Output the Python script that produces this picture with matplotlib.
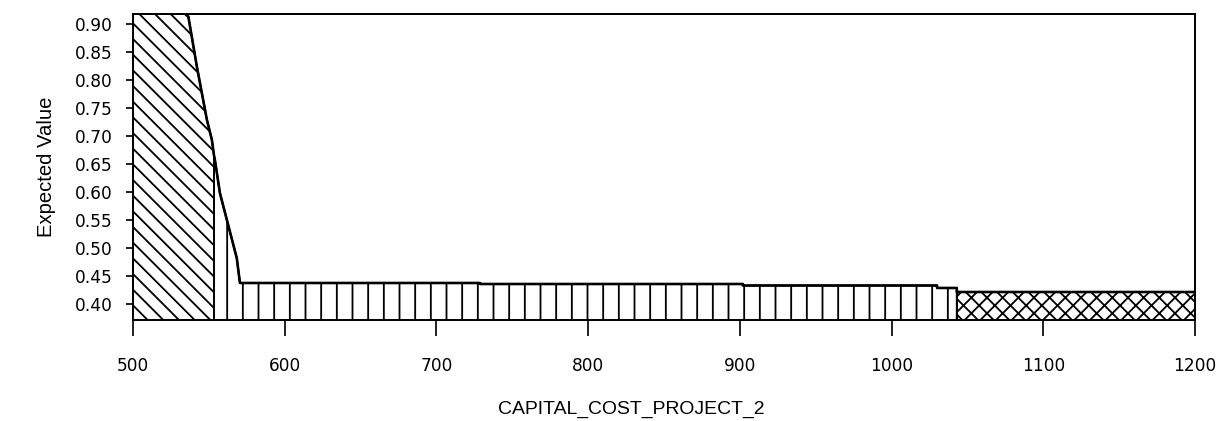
import matplotlib
matplotlib.use("Agg")
import matplotlib.pyplot as plt
import numpy as np

DPI = 94
plt.rcParams["hatch.linewidth"] = 1.4

# expected value against capital cost
cost = np.array([500, 536.5, 542.1, 548.7, 552.0, 553.4, 554.0, 557.3, 568.4, 570.5,
                 728.8, 728.8, 902, 902, 1030, 1030, 1043, 1043, 1200])
ev = np.array([1.00, 0.913, 0.824, 0.729, 0.693, 0.665, 0.657, 0.598, 0.482, 0.4375,
               0.4375, 0.4357, 0.4357, 0.433, 0.433, 0.4286, 0.4286, 0.4214, 0.4214])

# decision regions (boundaries in cost) and their hatches
region_edges = [500, 553.4, 1043, 1200]
region_hatch = ["\\\\", "|", "xx"]

yticks = np.arange(0.40, 0.901, 0.05)
xticks = np.arange(500, 1201, 100)

fig = plt.figure(figsize=(1230 / DPI, 421 / DPI), dpi=DPI)
ax = fig.add_axes([133 / 1230, 1 - 320 / 421, (1195 - 133) / 1230, (320 - 14) / 421])

for i, h in enumerate(region_hatch):
    a, b = region_edges[i], region_edges[i + 1]
    m = (cost >= a) & (cost <= b)
    ax.fill_between(cost[m], 0.3, ev[m], facecolor="white", edgecolor="black",
                    hatch=h, linewidth=1.5)

ax.plot(cost, ev, color="black", lw=2)

ax.set_xlim(500, 1200)
ax.set_ylim(0.3714, 0.9179)
ax.set_xticks(xticks)
ax.set_yticks(yticks)
ax.set_yticklabels([f"{v:.2f}" for v in yticks])

for s in ax.spines.values():
    s.set_linewidth(1.5)
    s.set_color("black")

ax.tick_params(axis="x", direction="out", length=12.5, width=1.3, pad=16,
               labelsize=13)
ax.tick_params(axis="y", direction="out", length=5.5, width=1.3, pad=10,
               labelsize=13)
for lab in ax.get_xticklabels() + ax.get_yticklabels():
    lab.set_family("DejaVu Sans")

fig.text(631 / 1230, 1 - 414 / 421, "CAPITAL_COST_PROJECT_2", ha="center",
         va="baseline", fontsize=14.8, family="Liberation Sans")
fig.text(47 / 1230, 1 - 167 / 421, "Expected Value", rotation=90, ha="center",
         va="center", fontsize=15.5, family="Liberation Sans")

fig.savefig("out.png", dpi=DPI)
